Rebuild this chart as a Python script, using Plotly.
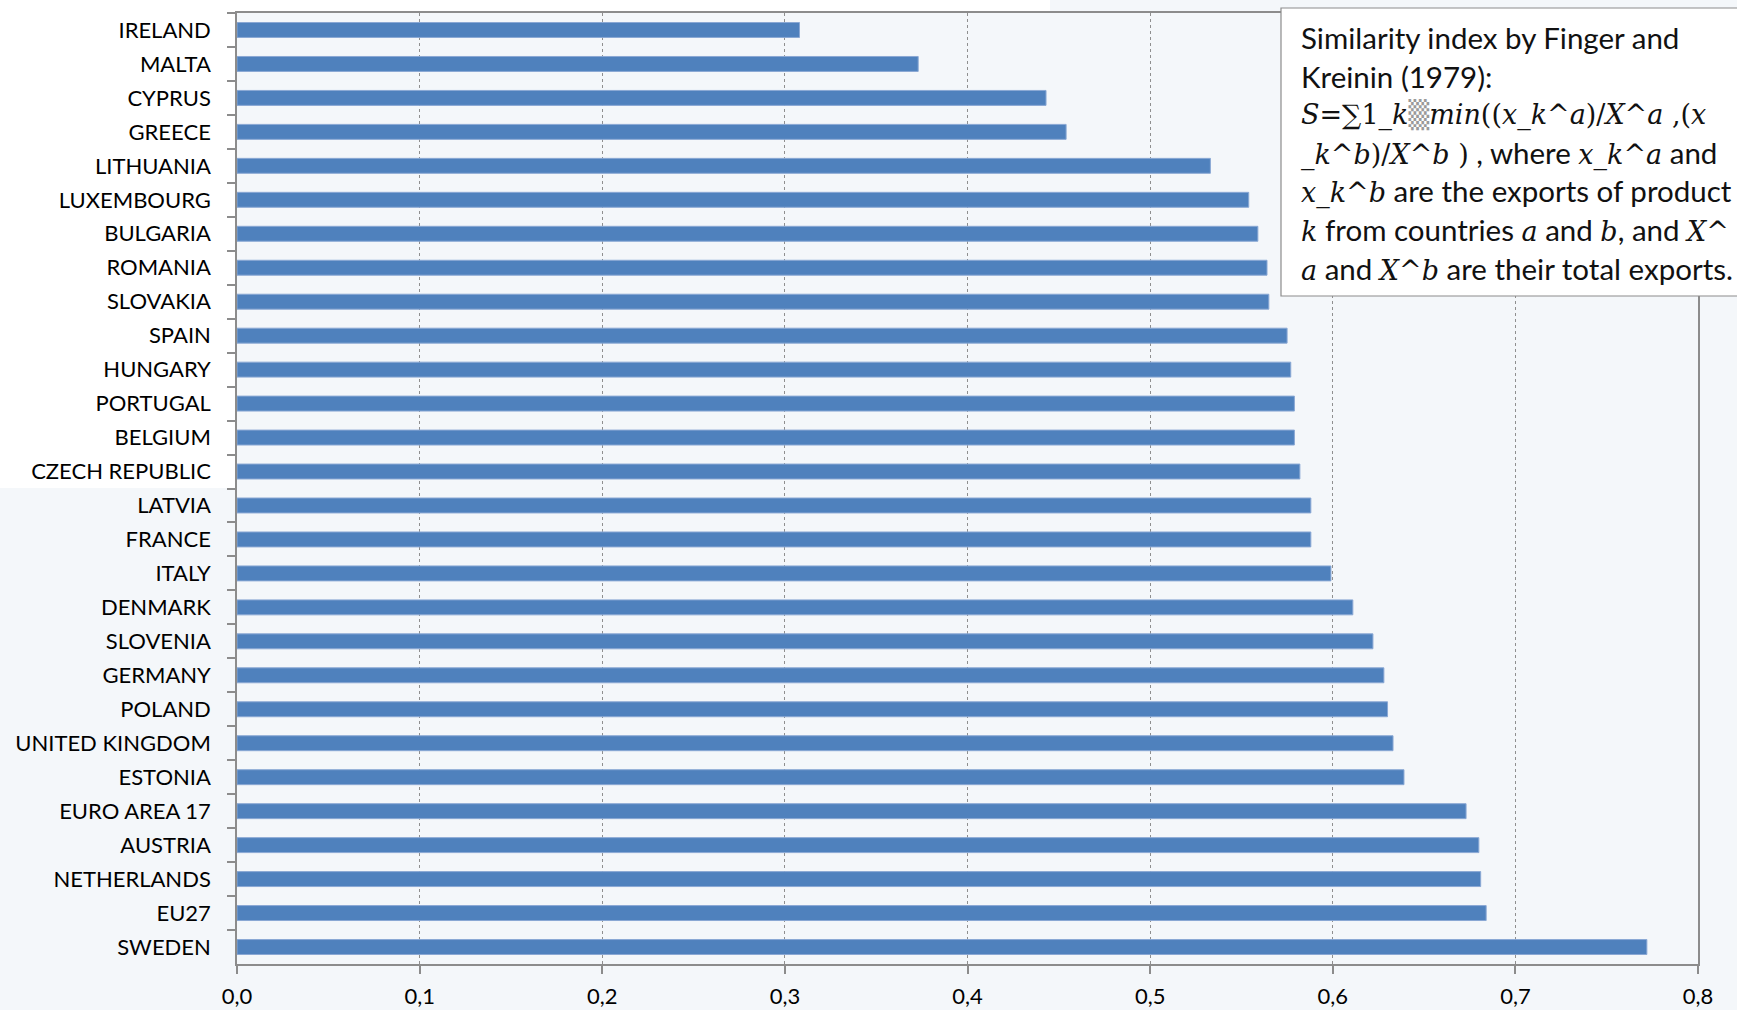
import plotly.graph_objects as go

# ---------------- data ----------------
countries = ["IRELAND", "MALTA", "CYPRUS", "GREECE", "LITHUANIA", "LUXEMBOURG",
             "BULGARIA", "ROMANIA", "SLOVAKIA", "SPAIN", "HUNGARY", "PORTUGAL",
             "BELGIUM", "CZECH REPUBLIC", "LATVIA", "FRANCE", "ITALY", "DENMARK",
             "SLOVENIA", "GERMANY", "POLAND", "UNITED KINGDOM", "ESTONIA",
             "EURO AREA 17", "AUSTRIA", "NETHERLANDS", "EU27", "SWEDEN"]
similarity = [0.308, 0.373, 0.443, 0.454, 0.533, 0.554, 0.559, 0.564, 0.565,
              0.575, 0.577, 0.579, 0.579, 0.582, 0.588, 0.588, 0.599, 0.611,
              0.622, 0.628, 0.630, 0.633, 0.639, 0.673, 0.680, 0.681, 0.684, 0.772]
x_tick_vals = [0.0, 0.1, 0.2, 0.3, 0.4, 0.5, 0.6, 0.7, 0.8]
x_tick_labels = ["0,0", "0,1", "0,2", "0,3", "0,4", "0,5", "0,6", "0,7", "0,8"]

M = "font-family:DejaVu Serif;font-size:27px"
SH = "color:#9A9A9A"
note_lines = [
    "Similarity index by Finger and",
    "Kreinin (1979):",
    f"<span style='{M}'><i>S</i>=∑1_<i>k</i><span style='{SH}'>▒</span><i>min</i>((<i>x_k^a</i>)/<i>X^a</i> ,(<i>x</i></span>",
    f"<span style='{M}'><i>_k^b</i>)/<i>X^b</i> )</span> , where <span style='{M}'><i>x_k^a</i></span> and",
    f"<span style='{M}'><i>x_k^b</i></span> are the exports of product",
    f"<span style='{M}'><i>k</i></span> from countries <span style='{M}'><i>a</i></span> and <span style='{M}'><i>b</i></span>, and <span style='{M}'><i>X^</i></span>",
    f"<span style='{M}'><i>a</i></span> and <span style='{M}'><i>X^b</i></span> are their total exports.",
]

# ---------------- layout constants ----------------
W, H = 1737, 1010
L, R, T, B = 237, 39, 13, 46
PW, PH = W - L - R, H - T - B


def px(x):
    return (x - L) / PW


def py(y):
    return (H - B - y) / PH


FONT = "Lato, 'Open Sans', sans-serif"

fig = go.Figure()
fig.add_trace(go.Bar(
    x=similarity, y=countries, orientation="h",
    marker=dict(color="#4F81BD", line=dict(color="#8AA8D4", width=1)),
    width=0.44, hoverinfo="x+y",
))

shapes = [
    # white label area (background decoration)
    dict(type="rect", xref="paper", yref="paper", x0=px(0), x1=px(L), y0=py(488), y1=py(0),
         fillcolor="white", line=dict(width=0), layer="below"),
    dict(type="rect", xref="paper", yref="paper", x0=px(0), x1=px(1050), y0=py(T), y1=py(0),
         fillcolor="white", line=dict(width=0), layer="below"),
    # note box
    dict(type="rect", xref="paper", yref="paper", x0=px(1281), x1=px(1760), y0=py(296), y1=py(8),
         fillcolor="white", line=dict(color="#8C8C8C", width=1.2), layer="above"),
]

annotations = []
for i, line in enumerate(note_lines):
    annotations.append(dict(
        xref="paper", yref="paper", x=px(1299), y=py(37.6 + i * 38.4),
        xanchor="left", yanchor="middle", text=line, showarrow=False,
        align="left", font=dict(family=FONT, size=29.5, color="#111"),
    ))

fig.update_layout(
    width=W, height=H,
    margin=dict(l=L, r=R, t=T, b=B, pad=0),
    paper_bgcolor="#F4F7FA", plot_bgcolor="#F4F7FA",
    showlegend=False,
    font=dict(family=FONT, size=22, color="#000"),
    shapes=shapes, annotations=annotations,
    xaxis=dict(
        range=[0, 0.8], tickvals=x_tick_vals, ticktext=x_tick_labels,
        showgrid=True, gridcolor="#8F8F8F", griddash="dot", gridwidth=1,
        zeroline=False, showline=True, linecolor="#8C8C8C", linewidth=1.5, mirror=True,
        ticks="outside", ticklen=8, tickcolor="#8C8C8C", tickwidth=1.5,
        ticklabelstandoff=4, automargin=False,
        tickfont=dict(family=FONT, size=22, color="#000"),
    ),
    yaxis=dict(
        type="category", autorange="reversed",
        categoryorder="array", categoryarray=countries,
        showgrid=False, zeroline=False,
        showline=True, linecolor="#8C8C8C", linewidth=1.5, mirror=True,
        ticks="outside", ticklen=8, tickcolor="#8C8C8C", tickwidth=1.5,
        tickson="boundaries", ticklabelstandoff=20, automargin=False,
        tickfont=dict(family=FONT, size=22, color="#000"),
    ),
)

fig.write_html("out.html")
